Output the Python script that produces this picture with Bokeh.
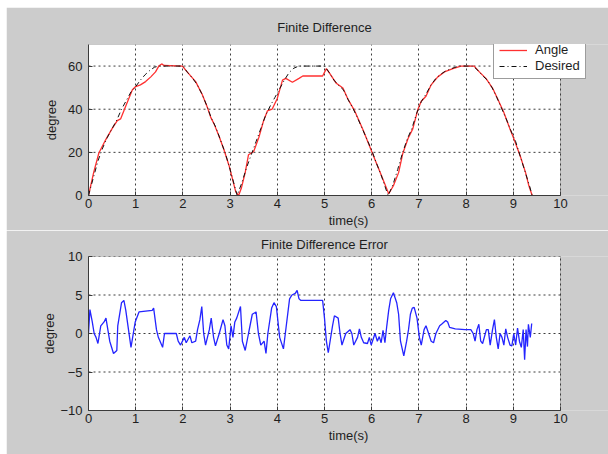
from bokeh.plotting import figure
from bokeh.layouts import column
from bokeh.models import Legend, LegendItem, FixedTicker, Range1d, BoxAnnotation
from bokeh.embed import file_html
from bokeh.resources import INLINE

# ---------------- data ----------------
x_ticks = [0, 1, 2, 3, 4, 5, 6, 7, 8, 9, 10]
angle_yticks = [0, 20, 40, 60]
angle_ymax = 70
err_yticks = [-10, -5, 0, 5, 10]

t_desired = [0, 0.1, 0.2, 0.3, 0.4, 0.5, 0.6, 0.7, 0.8, 0.9, 1.0, 1.1, 1.2, 1.3, 1.4, 1.5,
             2.0, 2.1, 2.2, 2.3, 2.4, 2.5, 2.6, 2.7, 2.8, 2.9, 3.0, 3.1, 3.15,
             3.25, 3.35, 3.45, 3.55, 3.65, 3.75, 3.85, 3.95, 4.05, 4.15, 4.25, 4.35, 4.45,
             5.0, 5.1, 5.2, 5.3, 5.4, 5.5, 5.6, 5.7, 5.8, 5.9, 6.0, 6.1, 6.2, 6.3, 6.35,
             6.45, 6.55, 6.65, 6.75, 6.85, 6.95, 7.05, 7.15, 7.25, 7.35, 7.45, 7.55, 7.65,
             7.75, 7.85, 8.15, 8.25, 8.35, 8.45, 8.55, 8.65, 8.75, 8.85, 8.95, 9.05, 9.15,
             9.25, 9.35, 9.4]
desired = [0, 8, 16, 22, 27, 31, 35, 40, 44, 48, 50.5, 53.5, 56, 58, 59.5, 60,
           60, 57, 54.5, 51.5, 47.2, 42, 36, 31.5, 25.5, 19.5, 12, 4, 0,
           6, 13, 19, 25, 31, 37, 41.5, 45.5, 49.5, 53.5, 57, 59, 60,
           60, 57, 53.5, 51, 49, 44.5, 40.5, 36, 31, 26, 21, 15, 9.5, 3, 0,
           5, 12, 19.5, 26, 31, 38, 43.5, 47, 51, 54, 56, 57.5, 58.5,
           59.3, 60, 60, 58, 55.5, 53.5, 50, 45.5, 40.5, 35.5, 30, 25, 18,
           11, 4, 0]

t_angle = [0, 0.11, 0.22, 0.36, 0.5, 0.61, 0.68, 0.79, 0.93, 1.0, 1.1, 1.21, 1.32, 1.42,
           1.49, 1.55, 1.6, 1.99, 2.09, 2.27, 2.41, 2.52, 2.59, 2.66, 2.77, 2.87, 2.98,
           3.05, 3.12, 3.18, 3.24, 3.32, 3.39, 3.5, 3.61, 3.71, 3.79, 3.89, 4.0, 4.11,
           4.18, 4.32, 4.46, 4.54, 4.96, 5.04, 5.11, 5.25, 5.39, 5.5, 5.64, 5.82, 5.96,
           6.07, 6.21, 6.36, 6.46, 6.57, 6.66, 6.77, 6.87, 6.98, 7.05, 7.15, 7.26, 7.4,
           7.54, 7.72, 7.89, 8.17, 8.28, 8.42, 8.56, 8.66, 8.8, 8.94, 9.01, 9.15, 9.26,
           9.33, 9.4]
angle = [0, 10.7, 19.7, 25.7, 31, 34.7, 35.5, 41.5, 49, 50.5, 51.3, 52.8, 55, 57.3,
         60, 61, 60.3, 60, 57.3, 52.8, 46.8, 40.8, 36.2, 33.2, 27.2, 21.2, 13.7,
         7.7, 1.7, 0, 3.5, 10.6, 18.9, 20.4, 27, 34.7, 39.2, 40, 45, 53.5,
         54.3, 52.5, 54.3, 55.4, 55.4, 58.8, 56.6, 52, 49.8, 44.5, 39.2, 30.2, 22.6,
         16.6, 9, 0.8, 4.5, 10.6, 19.6, 26.4, 30.9, 40, 43.7, 46, 51.3, 55,
         57.3, 58.8, 60, 60, 57.3, 54.3, 49.8, 45.2, 38.5, 30.2, 26.4, 18.1, 10.6,
         4.5, 0]

t_err = [0, 0.03, 0.08, 0.12, 0.16, 0.2, 0.26, 0.33, 0.37, 0.45, 0.53, 0.6, 0.62, 0.7,
         0.75, 0.79, 0.9, 0.99, 1.07, 1.35, 1.38, 1.44, 1.48, 1.57, 1.61, 1.86, 1.9,
         1.95, 2.03, 2.07, 2.15, 2.19, 2.27, 2.31, 2.36, 2.4, 2.44, 2.48, 2.56, 2.6,
         2.65, 2.69, 2.77, 2.85, 2.89, 2.93, 2.97, 3.02, 3.06, 3.1, 3.14, 3.22, 3.26,
         3.32, 3.39, 3.47, 3.55, 3.6, 3.65, 3.72, 3.76, 3.8, 3.88, 3.93, 3.98, 4.05,
         4.13, 4.17, 4.26, 4.31, 4.38, 4.42, 4.46, 4.5, 4.96, 5.0, 5.04, 5.08, 5.17,
         5.21, 5.29, 5.33, 5.37, 5.45, 5.54, 5.58, 5.62, 5.7, 5.74, 5.78, 5.83, 5.91,
         5.95, 5.99, 6.07, 6.12, 6.16, 6.2, 6.24, 6.28, 6.32, 6.36, 6.4, 6.46, 6.53,
         6.57, 6.61, 6.68, 6.74, 6.78, 6.82, 6.86, 6.9, 6.96, 7.01, 7.05, 7.11, 7.15,
         7.19, 7.26, 7.31, 7.36, 7.44, 7.48, 7.57, 7.61, 7.65, 7.77, 7.98, 8.1, 8.15,
         8.19, 8.23, 8.27, 8.31, 8.35, 8.43, 8.47, 8.51, 8.56, 8.6, 8.64, 8.68, 8.72,
         8.76, 8.8, 8.84, 8.88, 8.93, 8.97, 9.01, 9.05, 9.09, 9.13, 9.17, 9.21, 9.24,
         9.27, 9.3, 9.32, 9.36, 9.39]
err = [0, 3.1, 1.5, 0, -0.5, -1.3, 1, 1.5, 2, -1, -2.6, -2.2, 1, 4,
       4.3, 3, -1.8, 1.5, 2.8, 3, 3.3, 0.5, -0.5, -1.8, 0, 0, -1,
       -1.5, -0.5, -1.2, -0.3, -1.2, -1.0, 0.5, 1.8, 3.5, 0, -1.5, 0.5, 2,
       -0.5, -1.6, 0, 1.8, 1, -1.5, -2, 1, -0.5, 1.5, 2, 3.5, -1,
       -2.2, 0, 2.5, 2.8, 0, -1.5, -1, -2.6, 0, 3.3, 4.0, 3.5, -0.5,
       -2, 0, 4.5, 5, 5.2, 5.6, 4.5, 4.3, 4.3, 2, -1, -2.5, 1,
       2.3, 2, 0, -1.5, 0, 0.5, 0, -1.5, -0.5, 0.6, -0.5, -1.2, -1.3,
       -0.5, -1.5, 0, -1.0, -0.4, -1.2, 0.4, -1.2, 1, 3, 4.5, 5.3, 4,
       2.5, -1, -2.9, -1, 0.5, 2.5, 3.3, 3.4, 2, -0.5, -1.5, 0.5, 1,
       0.3, -1, -1.2, 0, 1, 1.2, 1.7, 1.5, 0.8, 0.6, 0.5, 0.5, 0,
       -1, 0.5, 1.2, -1, -1.3, 0.5, 0.5, -1.5, 0.5, 1.8, -0.5, -2, 0,
       -0.5, -1.5, 0.6, -0.5, -1.5, -1.6, 0, -1.5, 0.7, -1.0, -1.8, 0.5, -3.4,
       0.5, -1.7, 1.2, -0.5, 1.3]

# ---------------- styling ----------------
GRAY = "#cccccc"
FONT = "Liberation Sans"
TXT = "#1e1e1e"
EDGE = "#3a3a3a"
GRID = "#3c3c3c"
FS = "13px"

FIG_W = 602
LEFT = 82
PLOT_W = 472               # pixel width of the 0..10 axis box
FRAME_W = FIG_W - LEFT     # frame runs to the window edge so the legend can overhang
X_LO, X_HI = x_ticks[0], x_ticks[-1]


def make_plot(title, title_px_w, yticks, y_lo, y_hi, height, border_top, border_bottom,
              title_standoff, ylab_standoff):
    p = figure(width=FIG_W, height=height,
               x_range=Range1d(X_LO, X_LO + (X_HI - X_LO) * FRAME_W / PLOT_W),
               y_range=Range1d(y_lo, y_hi),
               title=title, output_backend="svg", toolbar_location=None,
               min_border_left=LEFT, min_border_right=0,
               min_border_top=border_top, min_border_bottom=border_bottom,
               background_fill_color=GRAY, border_fill_color=GRAY,
               outline_line_color=None)
    p.xaxis.ticker = FixedTicker(ticks=x_ticks)
    p.yaxis.ticker = FixedTicker(ticks=yticks)
    for ax in p.axis:
        ax.major_tick_in = 4
        ax.major_tick_out = 0
        ax.minor_tick_line_color = None
        ax.axis_line_color = EDGE
        ax.major_tick_line_color = EDGE
        ax.major_label_text_font = FONT
        ax.major_label_text_font_size = FS
        ax.major_label_text_color = TXT
        ax.axis_label_text_font = FONT
        ax.axis_label_text_font_size = FS
        ax.axis_label_text_font_style = "normal"
        ax.axis_label_text_color = TXT
    p.xaxis.bounds = (X_LO, X_HI)
    p.xaxis.major_label_standoff = 3
    p.yaxis.major_label_standoff = 6
    p.xaxis.axis_label = "time(s)"
    p.xaxis.axis_label_standoff = 2
    p.yaxis.axis_label = "degree"
    p.yaxis.axis_label_standoff = ylab_standoff
    p.xgrid.grid_line_color = GRID
    p.xgrid.grid_line_dash = "2 3"
    p.ygrid.visible = False
    p.title.text_font = FONT
    p.title.text_font_size = FS
    p.title.text_font_style = "normal"
    p.title.text_color = TXT
    p.title.align = "left"
    p.title.standoff = title_standoff
    p.title.offset = (PLOT_W - title_px_w) / 2   # centre over the 0..10 box
    # white axes box with dark edge, exactly over 0..10
    p.add_layout(BoxAnnotation(left=X_LO, right=X_HI, bottom=y_lo, top=y_hi,
                               fill_color="white", fill_alpha=1,
                               line_color=EDGE, line_width=1, level="image"))
    # horizontal grid lines limited to the axes box
    p.segment(x0=[X_LO] * len(yticks), x1=[X_HI] * len(yticks), y0=yticks, y1=yticks,
              line_color=GRID, line_dash="2 3", line_width=1, level="underlay")
    return p


p1 = make_plot("Finite Difference", 94.6, angle_yticks, angle_yticks[0], angle_ymax,
               223, 37, 33, 20, 6)

r_angle = p1.line(t_angle, angle, line_color="#ff3030", line_width=1.3)
r_des = p1.line(t_desired, desired, line_color="#101010", line_width=1,
                line_dash="5 3 1 3")

legend = Legend(items=[LegendItem(label="Angle", renderers=[r_angle]),
                       LegendItem(label="Desired", renderers=[r_des])],
                location=(405, 116), margin=0, padding=5, spacing=1,
                glyph_width=28, glyph_height=14, label_height=14, label_standoff=8,
                label_text_font=FONT, label_text_font_size=FS, label_text_color=TXT,
                border_line_color=EDGE, background_fill_color="white",
                background_fill_alpha=1)
p1.add_layout(legend, "center")

p2 = make_plot("Finite Difference Error", 127.1, err_yticks, err_yticks[0], err_yticks[-1],
               224, 26, 44, 9, 0)
p2.line(t_err, err, line_color="#2424ff", line_width=1.3)

layout = column(p1, p2, spacing=0, margin=(7, 0, 0, 6))
open("out.html", "w").write(file_html(layout, INLINE))
